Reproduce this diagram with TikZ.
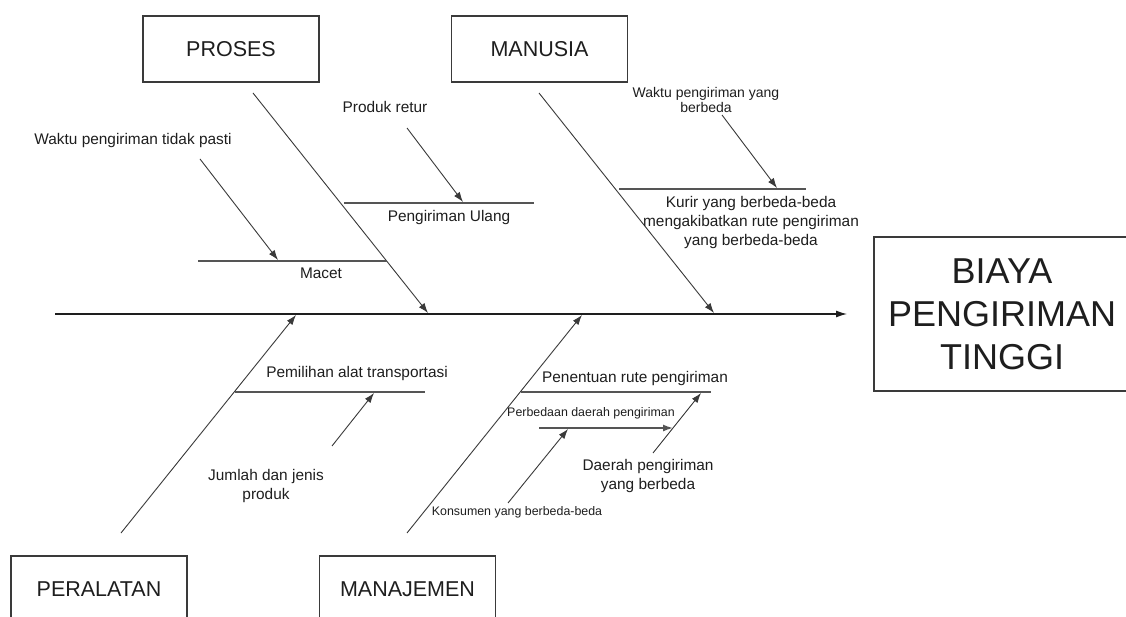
\documentclass[tikz,border=0pt]{standalone}
\usepackage{fontspec}
\setmainfont{Liberation Sans}
\usetikzlibrary{arrows.meta}
\definecolor{ink}{HTML}{1E1E1E}
\definecolor{bone}{HTML}{3A3A3A}
\definecolor{twig}{HTML}{555555}
\begin{document}
\begin{tikzpicture}[x=1pt,y=-1pt,
  catbox/.style={draw=bone,line width=1.2pt,minimum width=176pt,minimum height=66pt,inner sep=0pt,
    font=\fontsize{21.5}{24}\selectfont,text=ink},
  goalbox/.style={draw=bone,line width=1.2pt,minimum width=256pt,minimum height=154pt,inner sep=0pt,
    align=center,font=\fontsize{36}{43}\selectfont,text=ink},
  lbl/.style={inner sep=0pt,text=ink,font=\fontsize{15.4}{19}\selectfont,align=center},
  lblm/.style={inner sep=0pt,text=ink,font=\fontsize{14}{15}\selectfont,align=center},
  lbls/.style={inner sep=0pt,text=ink,font=\fontsize{12.4}{14}\selectfont,align=center},
  tip/.style={-{Latex[length=10pt,width=7pt]}},
  twigl/.style={draw=twig,line width=1.4pt},
  arr/.style={draw=bone,line width=0.9pt,tip},
  spine/.style={draw=ink,line width=1.2pt,-{Latex[length=11pt,width=7pt]}}]
\clip (0,0) rectangle (1126,617);
\fill[white] (0,0) rectangle (1126,617);

% category boxes
\node[catbox] (proses) at (231,49) {PROSES};
\node[catbox] (manusia) at (539.5,49) {MANUSIA};
\node[catbox] (peralatan) at (99,589) {PERALATAN};
\node[catbox] (manajemen) at (407.5,589) {MANAJEMEN};
\node[goalbox] (goal) at (1002,314) {BIAYA\\PENGIRIMAN\\TINGGI};

% spine
\coordinate (s0) at (55,314);
\coordinate (s1) at (847,314);
\draw[spine] (s0) -- (s1);

% main bones
\coordinate (pb0) at (253,93);   \coordinate (pb1) at (428,313);
\coordinate (mb0) at (539,93);   \coordinate (mb1) at (714,313);
\coordinate (eb0) at (121,533);  \coordinate (eb1) at (296,315);
\coordinate (jb0) at (407,533);  \coordinate (jb1) at (582,315);
\draw[arr] (pb0) -- (pb1);
\draw[arr] (mb0) -- (mb1);
\draw[arr] (eb0) -- (eb1);
\draw[arr] (jb0) -- (jb1);

% PROSES sub-branches
\coordinate (u0) at (344,203); \coordinate (u1) at (534,203);
\draw[twigl] (u0) -- (u1);
\coordinate (ua0) at (407,128); \coordinate (ua1) at (463,202);
\draw[arr] (ua0) -- (ua1);
\node[lbl] (retur) at (385,107) {Produk retur};
\node[lbl] (ulang) at (449,218) {Pengiriman Ulang};

\coordinate (m0) at (198,261); \coordinate (m1) at (387,261);
\draw[twigl] (m0) -- (m1);
\coordinate (ma0) at (200,159); \coordinate (ma1) at (278,260);
\draw[arr] (ma0) -- (ma1);
\node[lbl] (waktu) at (133,141) {Waktu pengiriman tidak pasti};
\node[lbl] (macet) at (321,273) {Macet};

% MANUSIA sub-branch
\coordinate (k0) at (619,189); \coordinate (k1) at (806,189);
\draw[twigl] (k0) -- (k1);
\coordinate (ka0) at (722,115); \coordinate (ka1) at (777,188);
\draw[arr] (ka0) -- (ka1);
\node[lblm] (wyang) at (706,99.5) {Waktu pengiriman yang\\berbeda};
\node[lbl] (kurir) at (751,223) {Kurir yang berbeda-beda\\mengakibatkan rute pengiriman\\yang berbeda-beda};

% PERALATAN sub-branch
\coordinate (t0) at (235,392); \coordinate (t1) at (425,392);
\draw[twigl] (t0) -- (t1);
\coordinate (ta0) at (332,446); \coordinate (ta1) at (374,393);
\draw[arr] (ta0) -- (ta1);
\node[lbl] (pemilihan) at (357,374) {Pemilihan alat transportasi};
\node[lbl] (jumlah) at (266,486) {Jumlah dan jenis\\produk};

% MANAJEMEN sub-branches
\coordinate (r0) at (521,392); \coordinate (r1) at (711,392);
\draw[twigl] (r0) -- (r1);
\node[lbl] (penentuan) at (635,379) {Penentuan rute pengiriman};

\coordinate (d0) at (539,428); \coordinate (d1) at (673,428);
\draw[twigl,tip] (d0) -- (d1);
\node[lbls] (perbedaan) at (591,413) {Perbedaan daerah pengiriman};

\coordinate (ka) at (508,503); \coordinate (kb) at (568,429);
\draw[arr] (ka) -- (kb);
\node[lbls] (konsumen) at (517,512) {Konsumen yang berbeda-beda};

\coordinate (da) at (653,453); \coordinate (db) at (701,393);
\draw[arr] (da) -- (db);
\node[lbl] (daerah) at (648,476.5) {Daerah pengiriman\\yang berbeda};
\end{tikzpicture}
\end{document}
